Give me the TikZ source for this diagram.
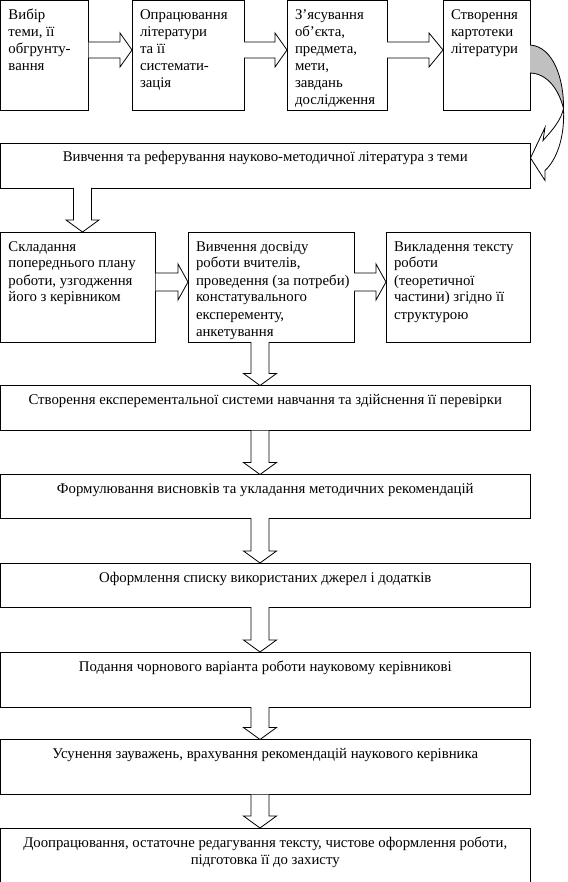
\documentclass[tikz,border=0pt]{standalone}
\usepackage{fontspec}
\setmainfont{Liberation Serif}
\usetikzlibrary{calc}
\definecolor{curvegray}{RGB}{192,192,192}
\tikzset{
  box/.style={draw, line width=0.8pt, anchor=north west, inner xsep=8pt, inner ysep=0pt, outer sep=0pt, font=\fontsize{14.8}{17}\selectfont},
  barrow/.style={draw, line width=0.8pt, fill=white, line join=miter},
}
\newcommand\tbl[3]{\parbox[c][#2pt][t]{\dimexpr#1pt-16pt\relax}{\raggedright\rule{0pt}{19pt}#3}}
\newcommand\tbc[3]{\parbox[c][#2pt][t]{\dimexpr#1pt-16pt\relax}{\centering\rule{0pt}{19pt}#3}}
% horizontal block arrow: from #1 east to #2 west, centre y #3 (negative), head length #4, shaft half #5, head half #6
\newcommand\harr[6]{\path[barrow] let \p1=(#1.east), \p2=(#2.west) in
  (\x1,{(#3+#5)*1pt}) -- ({\x2-#4pt},{(#3+#5)*1pt}) -- ({\x2-#4pt},{(#3+#6)*1pt}) -- (\x2,{#3*1pt})
  -- ({\x2-#4pt},{(#3-#6)*1pt}) -- ({\x2-#4pt},{(#3-#5)*1pt}) -- (\x1,{(#3-#5)*1pt});}
% vertical block arrow: from #1 south to #2 north, centre x #3
\newcommand\varr[3]{\path[barrow] let \p1=(#1.south), \p2=(#2.north) in
  ({(#3-9)*1pt},\y1) -- ({(#3-9)*1pt},{\y2+12pt}) -- ({(#3-16.5)*1pt},{\y2+12pt}) -- ({#3*1pt},\y2)
  -- ({(#3+16.5)*1pt},{\y2+12pt}) -- ({(#3+9)*1pt},{\y2+12pt}) -- ({(#3+9)*1pt},\y1);}
\begin{document}
\begin{tikzpicture}[x=1pt,y=1pt]
\useasboundingbox (0,0) rectangle (567,-882);
\clip (0,0) rectangle (567,-882);
% top row
\node[box] (b1) at (0.5,-0.5) {\tbl{88}{110}{Вибір\\ теми, її\\ обгрунту-\\ вання}};
\node[box] (b2) at (132,-0.5) {\tbl{112}{110}{\mbox{Опрацювання}\\ літератури\\ та її\\ системати-\\ зація}};
\node[box] (b3) at (287,-0.5) {\tbl{100}{110}{З’ясування\\ об’єкта,\\ предмета,\\ мети,\\ завдань\\ \mbox{дослідження}}};
\node[box] (b4) at (443,-0.5) {\tbl{87}{110}{Створення\\ картотеки\\ літератури}};
\node[box] (w1) at (0.5,-143) {\tbc{529.5}{45}{Вивчення та реферування науково-методичної література з теми}};
% second row
\node[box] (r1) at (0.5,-232) {\tbl{155}{110}{Складання\\ \mbox{попереднього плану}\\ \mbox{роботи, узгодження}\\ \mbox{його з керівником}}};
\node[box] (r2) at (188,-232) {\tbl{166}{110}{\mbox{Вивчення досвіду}\\ \mbox{роботи вчителів,}\\ \mbox{проведення (за потреби)}\\ констатувального\\ експеременту,\\ анкетування}};
\node[box] (r3) at (386,-232) {\tbl{144}{110}{\mbox{Викладення тексту}\\ роботи\\ (теоретичної\\ \mbox{частини) згідно її}\\ структурою}};
% wide boxes
\node[box] (w2) at (0.5,-385.5) {\tbc{529.5}{45}{Створення експерементальної системи навчання та здійснення її перевірки}};
\node[box] (w3) at (0.5,-474.5) {\tbc{529.5}{43.5}{Формулювання висновків та укладання методичних рекомендацій}};
\node[box] (w4) at (0.5,-563) {\tbc{529.5}{44}{Оформлення списку використаних джерел і додатків}};
\node[box] (w5) at (0.5,-652) {\tbc{529.5}{55}{Подання чорнового варіанта роботи науковому керівникові}};
\node[box] (w6) at (0.5,-739.5) {\tbc{529.5}{55}{Усунення зауважень, врахування рекомендацій наукового керівника}};
\node[box] (w7) at (0.5,-828) {\tbc{529.5}{60}{\mbox{Доопрацювання, остаточне редагування тексту, чистове оформлення роботи,}\\ підготовка її до захисту}};
% horizontal block arrows
\harr{b1}{b2}{-50}{12}{8}{17}
\harr{b2}{b3}{-50}{12}{8}{17}
\harr{b3}{b4}{-50}{14}{8}{17}
\harr{r1}{r2}{-282}{10}{9}{18}
\harr{r2}{r3}{-282}{10}{9}{18}
% vertical block arrows
\varr{w1}{r1}{82.5}
\varr{r2}{w2}{260}
\varr{w2}{w3}{260}
\varr{w3}{w4}{260}
\varr{w4}{w5}{260}
\varr{w5}{w6}{260}
\varr{w6}{w7}{260}
% curved arrow from b4 to w1
\begin{scope}[shift={(b4.north east)}]
  \coordinate (cA) at (0,-44.5);
  \coordinate (cB) at (0,-72.5);
  \coordinate (cP) at (33.5,-108);
  \fill[curvegray] (cA) .. controls (23,-46) and (34,-78) .. (cP) .. controls (29,-90) and (18,-73) .. (cB) -- cycle;
  \draw[line width=0.8pt] (cA) .. controls (23,-46) and (34,-78) .. (cP);
  \draw[line width=0.8pt] (cB) .. controls (18,-73) and (29,-90) .. (cP);
  \draw[line width=0.8pt, line join=miter] (cP) .. controls (35,-138) and (26,-160) .. (15,-170)
     -- (15,-180) -- ($(w1.north east)+(0.5,-15)$) -- (15,-127) -- (13,-140)
     .. controls (22,-130) and (31,-120) .. (cP);
\end{scope}
\end{tikzpicture}
\end{document}
